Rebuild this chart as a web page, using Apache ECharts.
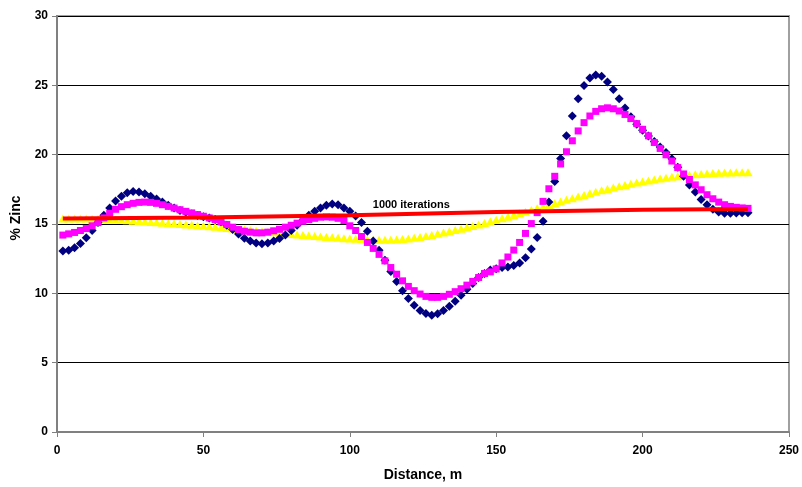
<!DOCTYPE html>
<html>
<head>
<meta charset="utf-8">
<script src="https://cdn.jsdelivr.net/npm/echarts@6/dist/echarts.min.js"></script>
<style>
  html, body { margin: 0; padding: 0; background: #fff; }
  #chart { width: 802px; height: 487px; }
</style>
</head>
<body>
<div id="chart"></div>
<script>
// distance along the line, m
var distance = [
  2, 4, 6, 8, 10, 12, 14, 16, 18, 20, 22, 24, 26, 28, 30, 32, 34, 36, 38, 40,
  42, 44, 46, 48, 50, 52, 54, 56, 58, 60, 62, 64, 66, 68, 70, 72, 74, 76, 78, 80,
  82, 84, 86, 88, 90, 92, 94, 96, 98, 100, 102, 104, 106, 108, 110, 112, 114, 116, 118, 120,
  122, 124, 126, 128, 130, 132, 134, 136, 138, 140, 142, 144, 146, 148, 150, 152, 154, 156, 158, 160,
  162, 164, 166, 168, 170, 172, 174, 176, 178, 180, 182, 184, 186, 188, 190, 192, 194, 196, 198, 200,
  202, 204, 206, 208, 210, 212, 214, 216, 218, 220, 222, 224, 226, 228, 230, 232, 234, 236
];

// navy diamonds
var zincNavy = [
  13.05, 13.1, 13.29, 13.6, 14.01, 14.53, 15.1, 15.63, 16.15, 16.65, 17.01, 17.25, 17.35, 17.3, 17.18, 17.01, 16.8, 16.58, 16.36, 16.15,
  15.98, 15.84, 15.72, 15.62, 15.52, 15.44, 15.33, 15.17, 14.91, 14.6, 14.27, 13.98, 13.77, 13.63, 13.58, 13.63, 13.77, 13.96, 14.2, 14.53,
  14.91, 15.27, 15.63, 15.92, 16.16, 16.35, 16.44, 16.39, 16.16, 15.92, 15.58, 15.1, 14.48, 13.77, 13.1, 12.38, 11.57, 10.86, 10.19, 9.62,
  9.14, 8.76, 8.54, 8.42, 8.52, 8.76, 9.07, 9.43, 9.86, 10.29, 10.71, 11.14, 11.43, 11.69, 11.78, 11.86, 11.9, 12.0, 12.19, 12.57,
  13.2, 14.03, 15.2, 16.58, 18.06, 19.73, 21.36, 22.79, 24.03, 24.98, 25.53, 25.75, 25.65, 25.24, 24.7, 24.03, 23.36, 22.74, 22.2, 21.76,
  21.35, 20.95, 20.55, 20.15, 19.7, 19.1, 18.45, 17.82, 17.3, 16.77, 16.39, 16.06, 15.87, 15.77, 15.77, 15.8, 15.82, 15.82
];

// magenta squares
var zincPink = [
  14.2, 14.29, 14.39, 14.53, 14.67, 14.87, 15.1, 15.44, 15.77, 16.06, 16.25, 16.39, 16.49, 16.56, 16.58, 16.56, 16.49, 16.39, 16.27, 16.15,
  16.03, 15.91, 15.8, 15.68, 15.56, 15.44, 15.32, 15.15, 14.96, 14.77, 14.6, 14.48, 14.41, 14.36, 14.36, 14.41, 14.51, 14.62, 14.77, 14.91,
  15.06, 15.2, 15.32, 15.41, 15.49, 15.51, 15.49, 15.41, 15.25, 14.87, 14.53, 14.1, 13.67, 13.24, 12.81, 12.34, 11.86, 11.38, 10.9, 10.5,
  10.19, 9.95, 9.78, 9.71, 9.71, 9.78, 9.93, 10.12, 10.33, 10.59, 10.86, 11.14, 11.43, 11.55, 11.76, 12.19, 12.62, 13.12, 13.67, 14.32,
  15.03, 15.82, 16.63, 17.54, 18.44, 19.33, 20.21, 21.0, 21.71, 22.31, 22.79, 23.12, 23.31, 23.38, 23.31, 23.15, 22.9, 22.6, 22.24, 21.83,
  21.36, 20.88, 20.45, 19.99, 19.54, 19.07, 18.61, 18.21, 17.82, 17.47, 17.11, 16.82, 16.58, 16.39, 16.27, 16.2, 16.16, 16.13
];

// yellow triangles
var zincYellow = [
  15.4, 15.4, 15.4, 15.39, 15.39, 15.38, 15.37, 15.36, 15.34, 15.32, 15.3, 15.27, 15.24, 15.21, 15.18, 15.15, 15.12, 15.09, 15.06, 15.03,
  15.0, 14.97, 14.94, 14.9, 14.87, 14.84, 14.8, 14.76, 14.72, 14.68, 14.64, 14.6, 14.56, 14.52, 14.48, 14.44, 14.4, 14.36, 14.32, 14.28,
  14.24, 14.2, 14.17, 14.13, 14.1, 14.07, 14.04, 14.01, 13.98, 13.95, 13.93, 13.91, 13.89, 13.87, 13.86, 13.86, 13.87, 13.89, 13.92, 13.96,
  14.01, 14.07, 14.14, 14.21, 14.29, 14.38, 14.47, 14.56, 14.66, 14.76, 14.86, 14.97, 15.08, 15.19, 15.3, 15.41, 15.53, 15.65, 15.77, 15.89,
  16.01, 16.13, 16.25, 16.37, 16.5, 16.62, 16.74, 16.86, 16.98, 17.1, 17.21, 17.32, 17.43, 17.53, 17.63, 17.73, 17.82, 17.91, 17.99, 18.07,
  18.14, 18.21, 18.28, 18.34, 18.4, 18.45, 18.5, 18.54, 18.58, 18.61, 18.64, 18.67, 18.69, 18.71, 18.72, 18.73, 18.74, 18.74
];

// red line, 1000 iterations
var redDist = [2, 50, 100, 150, 200, 236];
var redZinc = [15.4, 15.47, 15.63, 15.87, 16.02, 16.08];

var xTicks = [0, 50, 100, 150, 200, 250];
var yTicks = [0, 5, 10, 15, 20, 25, 30];

function pairs(xs, ys) {
    var out = [];
    for (var i = 0; i < xs.length; i++) out.push([xs[i], ys[i]]);
    return out;
}

var font = '"Liberation Sans", Arial, sans-serif';
var chart = echarts.init(document.getElementById('chart'), null, {renderer: 'canvas'});

chart.setOption({
    animation: false,
    backgroundColor: '#fff',
    grid: {
        left: 57, right: 11, top: 16, bottom: 52,
        show: true, borderColor: '#a0a0a0', borderWidth: 2
    },
    xAxis: {
        type: 'value',
        min: xTicks[0], max: xTicks[xTicks.length - 1], interval: 50,
        name: 'Distance, m',
        nameLocation: 'middle',
        nameGap: 36,
        nameTextStyle: {fontFamily: font, fontWeight: 'bold', fontSize: 14, color: '#000'},
        axisLine: {lineStyle: {color: '#808080', width: 2}},
        axisTick: {show: true, length: 5, lineStyle: {color: '#808080', width: 1}},
        axisLabel: {fontFamily: font, fontWeight: 'bold', fontSize: 12, color: '#000', margin: 13},
        splitLine: {show: false}
    },
    yAxis: {
        type: 'value',
        min: yTicks[0], max: yTicks[yTicks.length - 1], interval: 5,
        name: '% Zinc',
        nameLocation: 'middle',
        nameGap: 34,
        nameTextStyle: {fontFamily: font, fontWeight: 'bold', fontSize: 14, color: '#000', padding: [0, 0, 0, 12]},
        axisLine: {lineStyle: {color: '#808080', width: 2}},
        axisTick: {show: true, length: 5, lineStyle: {color: '#808080', width: 1}},
        axisLabel: {fontFamily: font, fontWeight: 'bold', fontSize: 12, color: '#000', margin: 9},
        splitLine: {lineStyle: {color: '#000', width: 1}}
    },
    series: [
        {
            name: 'yellow',
            type: 'scatter',
            symbol: 'triangle',
            symbolSize: [9, 8],
            itemStyle: {color: '#FFFF00', opacity: 1},
            data: pairs(distance, zincYellow)
        },
        {
            name: '1000 iterations',
            type: 'line',
            showSymbol: false,
            lineStyle: {color: '#FF0000', width: 4},
            data: pairs(redDist, redZinc),
            markPoint: {
                symbolSize: 0,
                data: [{coord: [121, 16.35]}],
                label: {
                    show: true, position: 'inside',
                    formatter: '1000 iterations',
                    fontFamily: font, fontWeight: 'bold', fontSize: 11, color: '#000'
                }
            }
        },
        {
            name: 'navy',
            type: 'scatter',
            symbol: 'diamond',
            symbolSize: 9,
            itemStyle: {color: '#000080', opacity: 1},
            data: pairs(distance, zincNavy)
        },
        {
            name: 'pink',
            type: 'scatter',
            symbol: 'rect',
            symbolSize: 7,
            itemStyle: {color: '#FF00FF', opacity: 1},
            data: pairs(distance, zincPink)
        }
    ]
});
</script>
</body>
</html>
